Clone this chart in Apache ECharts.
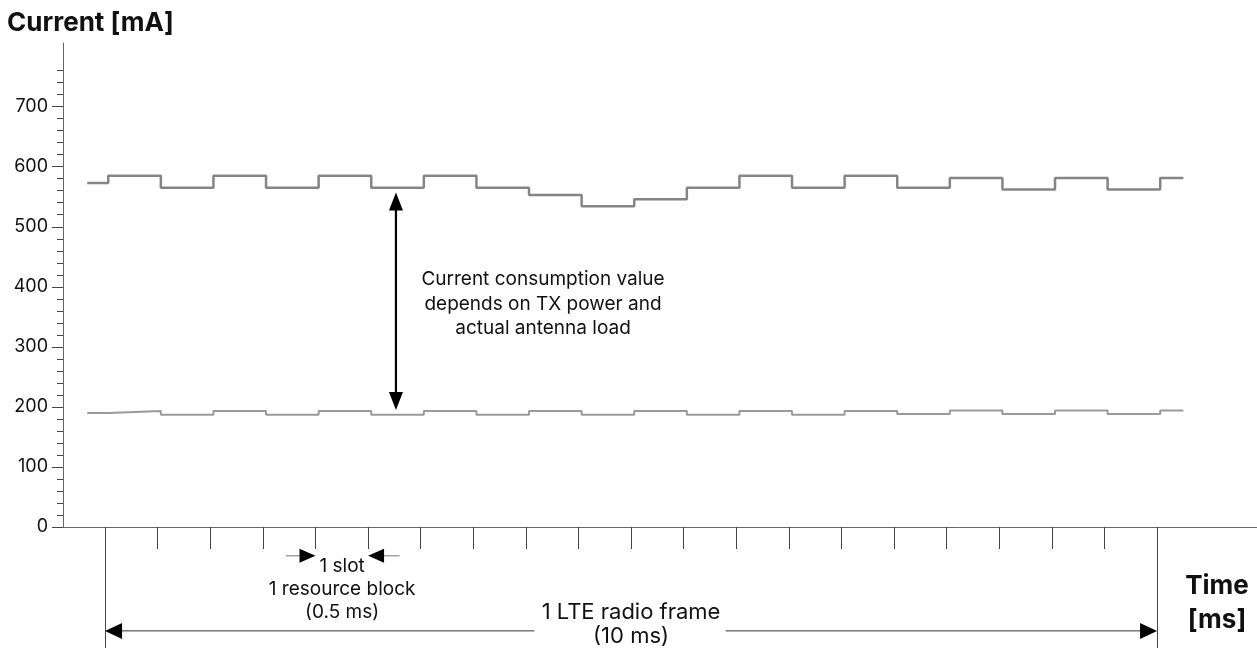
<!DOCTYPE html>
<html><head><meta charset="utf-8">
<script src="https://cdn.jsdelivr.net/npm/echarts@6/dist/echarts.min.js"></script>
<style>html,body{margin:0;padding:0;background:#fff}#c{width:1257px;height:651px}</style>
</head><body><div id="c"></div>
<script>
// ---- data ----
// segment boundaries (ms) and the current level held in each segment (mA)
const stepTimes = [-0.17,0.03,0.53,1.03,1.53,2.03,2.53,3.03,3.53,4.03,4.53,5.03,5.53,6.03,6.53,7.03,7.53,8.03,8.53,9.03,9.53,10.03,10.25];
const highCurrent = [573,585,565,585,565,585,565,585,565,553,534,546,565,585,565,585,565,581,562,581,562,581];
const lowCurrent  = [190,193,187,193,187,193,187,193,187,193,187,193,187,193,187,193,188,194,188,194,188,194];
const yMajorTicks = [0,100,200,300,400,500,600,700];
const yMinorTicks = [20,40,60,80,120,140,160,180,220,240,260,280,320,340,360,380,420,440,460,480,520,540,560,580,620,640,660,680,720,740,760];
const slotTicks = [0.5,1,1.5,2,2.5,3,3.5,4,4.5,5,5.5,6,6.5,7,7.5,8,8.5,9,9.5];
const frameEdges = [0,10];

const FONT = 'Inter, "Noto Sans", sans-serif';
// each level is held from stepTimes[i] to stepTimes[i+1]
function toSeries(levels){
  const out = [];
  levels.forEach((v,i)=>{ out.push([stepTimes[i], v]); out.push([stepTimes[i+1], v]); });
  return out;
}

const chart = echarts.init(document.getElementById('c'), null, {renderer:'canvas'});
const option = {
  animation:false,
  backgroundColor:'#fff',
  grid:{left:63, right:0, top:43, bottom:124, containLabel:false},
  xAxis:[
    {type:'value', min:-0.4, max:10.95, position:'bottom',
     axisLine:{show:true, onZero:false, lineStyle:{color:'#666', width:1}},
     axisTick:{show:true, customValues:slotTicks, length:22, lineStyle:{color:'#444', width:1}},
     axisLabel:{show:false}, splitLine:{show:false}},
    {type:'value', min:-0.4, max:10.95, position:'bottom',
     axisLine:{show:false, onZero:false},
     axisTick:{show:true, customValues:frameEdges, length:121, lineStyle:{color:'#444', width:1}},
     axisLabel:{show:false}, splitLine:{show:false}}
  ],
  yAxis:[
    {type:'value', min:0, max:806, position:'left',
     axisLine:{show:true, onZero:false, lineStyle:{color:'#666', width:1}},
     axisTick:{show:true, customValues:yMajorTicks, length:11, lineStyle:{color:'#444', width:1}},
     axisLabel:{show:true, customValues:yMajorTicks, margin:15, fontFamily:FONT, fontSize:18, color:'#111'},
     splitLine:{show:false}},
    {type:'value', min:0, max:806, position:'left',
     axisLine:{show:false, onZero:false},
     axisTick:{show:true, customValues:yMinorTicks, length:6, lineStyle:{color:'#444', width:1}},
     axisLabel:{show:false}, splitLine:{show:false}}
  ],
  series:[
    {type:'line', data:toSeries(highCurrent), showSymbol:false, lineStyle:{color:'#858585', width:2.5}},
    {type:'line', data:toSeries(lowCurrent), showSymbol:false, lineStyle:{color:'#9a9a9a', width:2}}
  ]
};
chart.setOption(option);

// ---- annotations positioned through the axes ----
function px(t,v){ return chart.convertToPixel({gridIndex:0},[t,v]); }
function head(tip, dx, dy, len, hw){
  const bx = tip[0]-dx*len, by = tip[1]-dy*len;
  const nx = -dy, ny = dx;
  return {type:'polygon', shape:{points:[[tip[0],tip[1]],[bx+nx*hw,by+ny*hw],[bx-nx*hw,by-ny*hw]]}, style:{fill:'#000'}, z:100};
}
function line(a,b,color,w){
  return {type:'line', shape:{x1:a[0],y1:a[1],x2:b[0],y2:b[1]}, style:{stroke:color, lineWidth:w}, z:99};
}
const g = [];
// vertical double arrow
const vt = px(2.765, 557), vb = px(2.765, 195);
g.push(line([vt[0], vt[1]+15],[vb[0], vb[1]-15],'#000',2.2));
g.push(head(vt,0,-1,18,7));
g.push(head(vb,0,1,18,7));
// frame arrows
const fl = px(0,-173), fr = px(10,-173), fm1 = px(4.08,-173), fm2 = px(5.9,-173);
g.push(line([fl[0]+12,fl[1]],fm1,'#333',1));
g.push(line(fm2,[fr[0]-12,fr[1]],'#333',1));
g.push(head(fl,-1,0,17,8));
g.push(head(fr,1,0,17,8));
// slot arrows
const s1 = px(2.0,-48), s0 = px(1.72,-48), s2 = px(2.5,-48), s3 = px(2.8,-48);
g.push(line(s0,[s1[0]-8,s1[1]],'#777',1));
g.push(line([s2[0]+8,s2[1]],s3,'#777',1));
g.push(head(s1,1,0,16,7));
g.push(head(s2,-1,0,16,7));
// texts
function txt(p, s, size, bold, lh){
  return {type:'text', x:p[0], y:p[1], z:101, style:{text:s, fill:'#111', font:(bold?'bold ':'')+size+'px '+FONT, align:'center', verticalAlign:'middle', lineHeight:lh}};
}
g.push(txt(px(4.163,371),'Current consumption value\ndepends on TX power and\nactual antenna load',19,false,24.5));
g.push(txt(px(2.253,-103),'1 slot\n1 resource block\n(0.5 ms)',19,false,23));
g.push(txt(px(5.0,-162),'1 LTE radio frame\n(10 ms)',22,false,24));
g.push({type:'text', x:1217, y:603, z:101, style:{text:'Time\n[ms]', fill:'#111', font:'bold 26px '+FONT, align:'center', verticalAlign:'middle', lineHeight:34}});
g.push({type:'text', x:7, y:23, z:101, style:{text:'Current [mA]', fill:'#111', font:'bold 26px '+FONT, align:'left', verticalAlign:'middle'}});
chart.setOption({graphic:{elements:g}});
</script>
</body></html>
